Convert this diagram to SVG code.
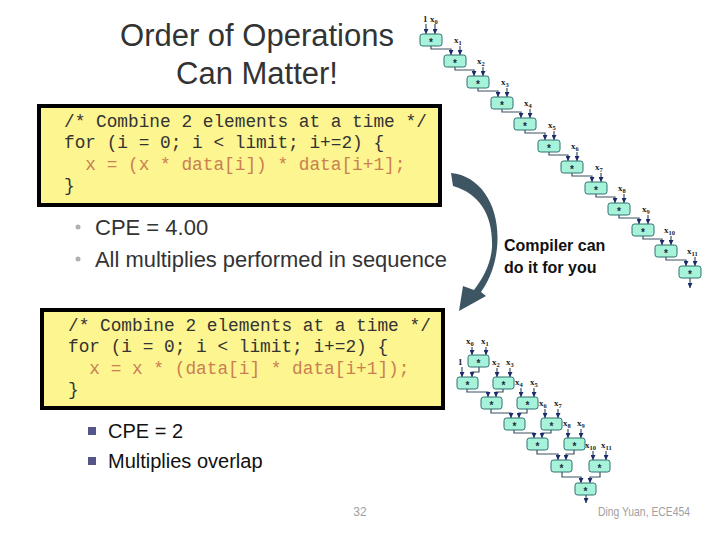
<svg xmlns="http://www.w3.org/2000/svg" width="720" height="540" viewBox="0 0 720 540">
<style>
.title{font-family:"Liberation Sans",Arial,sans-serif;font-size:31px;fill:#333;text-anchor:middle}
.code{font-family:"Liberation Mono","Courier New",monospace;font-size:17.8px;fill:#333;white-space:pre}
.hot{fill:#c98052}
.box{fill:#fdf590;stroke:#000;stroke-width:4}
.bul{font-family:"Liberation Sans",Arial,sans-serif;font-size:22px;fill:#333}
.bul2{font-family:"Liberation Sans",Arial,sans-serif;font-size:20px;fill:#111}
.note{font-family:"Liberation Sans",Arial,sans-serif;font-size:16px;font-weight:bold;fill:#111}
.foot{font-family:"Liberation Sans",Arial,sans-serif;font-size:12px;fill:#a0a0a0}
.n rect{fill:#a6f3d9;stroke:#2f7070;stroke-width:1}
.n text{font-family:"Liberation Sans",Arial,sans-serif;font-size:10px;font-weight:bold;fill:#1a2a40;text-anchor:middle}
.lbl{font-family:"Liberation Serif","Times New Roman",serif;font-size:9px;font-weight:bold;fill:#222}
.lbl tspan{font-size:6.5px}
.cn path{fill:none;stroke:#3a5060;stroke-width:1.2;marker-end:url(#ah)}
</style>
<defs>
<marker id="ah" markerUnits="userSpaceOnUse" markerWidth="5" markerHeight="5" refX="5" refY="2.5" orient="auto">
<path d="M0,0 L5,2.5 L0,5 z" fill="#1b2a6b"/>
</marker>
</defs>

<text class="title" x="257" y="46">Order of Operations</text>
<text class="title" x="257" y="84">Can Matter!</text>

<g id="code1">
<rect class="box" x="39" y="106" width="401" height="99"/>
<text class="code" x="64" y="127">/* Combine 2 elements at a time */</text>
<text class="code" x="64" y="148">for (i = 0; i &lt; limit; i+=2) {</text>
<text class="code hot" x="64" y="170">  x = (x * data[i]) * data[i+1];</text>
<text class="code" x="64" y="191">}</text>
</g>

<g id="bullets1">
<circle cx="78" cy="227" r="2.5" fill="#b0b0b0"/>
<circle cx="78" cy="259" r="2.5" fill="#b0b0b0"/>
<text class="bul" x="95" y="235">CPE = 4.00</text>
<text class="bul" x="95" y="267" textLength="352" lengthAdjust="spacingAndGlyphs">All multiplies performed in sequence</text>
</g>

<g id="note">
<text class="note" x="504" y="251">Compiler can</text>
<text class="note" x="504" y="273">do it for you</text>
</g>

<g id="curve">
<path d="M451 173 C482 176 501 208 497 248 C495 268 488 282 481 292 L486 296 L459 311 L463 286 L474 290 C484 277 491 263 492 247 C493 215 480 194 453 186 Z" fill="#3e5664"/>
</g>

<g id="code2">
<rect class="box" x="42" y="310" width="401" height="98"/>
<text class="code" x="68" y="331">/* Combine 2 elements at a time */</text>
<text class="code" x="68" y="352">for (i = 0; i &lt; limit; i+=2) {</text>
<text class="code hot" x="68" y="374">  x = x * (data[i] * data[i+1]);</text>
<text class="code" x="68" y="395">}</text>
</g>

<g id="bullets2">
<rect x="88" y="427" width="8" height="8" fill="#55558a"/>
<rect x="88" y="457" width="8" height="8" fill="#55558a"/>
<text class="bul2" x="108" y="438">CPE = 2</text>
<text class="bul2" x="108" y="468">Multiplies overlap</text>
</g>

<g id="toplabels">
<text class="lbl" x="423" y="22">1</text>
<text class="lbl" x="430" y="22">x<tspan dy="2">0</tspan></text>
<text class="lbl" x="454" y="43">x<tspan dy="2">1</tspan></text>
<text class="lbl" x="477" y="64">x<tspan dy="2">2</tspan></text>
<text class="lbl" x="501" y="85">x<tspan dy="2">3</tspan></text>
<text class="lbl" x="524" y="106">x<tspan dy="2">4</tspan></text>
<text class="lbl" x="548" y="128">x<tspan dy="2">5</tspan></text>
<text class="lbl" x="571" y="149">x<tspan dy="2">6</tspan></text>
<text class="lbl" x="595" y="170">x<tspan dy="2">7</tspan></text>
<text class="lbl" x="618" y="191">x<tspan dy="2">8</tspan></text>
<text class="lbl" x="642" y="212">x<tspan dy="2">9</tspan></text>
<text class="lbl" x="664" y="233">x<tspan dy="2">10</tspan></text>
<text class="lbl" x="687" y="254">x<tspan dy="2">11</tspan></text>
</g>

<g id="topconnectors" class="cn">
<path d="M426 24 V34"/><path d="M435 24 V34"/>
<path d="M431 46 V49 H451 V55"/><path d="M460 46 V55"/>
<path d="M455 67 V70 H474 V76"/><path d="M483 67 V76"/>
<path d="M478 88 V91 H498 V97"/><path d="M507 88 V97"/>
<path d="M502 109 V112 H521 V118"/><path d="M530 109 V118"/>
<path d="M525 130 V133 H545 V140"/><path d="M554 131 V140"/>
<path d="M549 152 V155 H568 V161"/><path d="M577 152 V161"/>
<path d="M572 173 V176 H592 V182"/><path d="M601 173 V182"/>
<path d="M596 194 V197 H615 V203"/><path d="M624 194 V203"/>
<path d="M619 215 V218 H639 V224"/><path d="M648 215 V224"/>
<path d="M643 236 V239 H662 V245"/><path d="M671 236 V245"/>
<path d="M666 257 V260 H686 V266"/><path d="M695 257 V266"/>
<path d="M690 278 V288"/>
</g>

<g id="t0" class="n" transform="translate(420,34)"><rect width="22" height="12" rx="2.5"/><text x="11" y="11.5">*</text></g>
<g id="t1" class="n" transform="translate(444,55)"><rect width="22" height="12" rx="2.5"/><text x="11" y="11.5">*</text></g>
<g id="t2" class="n" transform="translate(467,76)"><rect width="22" height="12" rx="2.5"/><text x="11" y="11.5">*</text></g>
<g id="t3" class="n" transform="translate(491,97)"><rect width="22" height="12" rx="2.5"/><text x="11" y="11.5">*</text></g>
<g id="t4" class="n" transform="translate(514,118)"><rect width="22" height="12" rx="2.5"/><text x="11" y="11.5">*</text></g>
<g id="t5" class="n" transform="translate(538,140)"><rect width="22" height="12" rx="2.5"/><text x="11" y="11.5">*</text></g>
<g id="t6" class="n" transform="translate(561,161)"><rect width="22" height="12" rx="2.5"/><text x="11" y="11.5">*</text></g>
<g id="t7" class="n" transform="translate(585,182)"><rect width="22" height="12" rx="2.5"/><text x="11" y="11.5">*</text></g>
<g id="t8" class="n" transform="translate(608,203)"><rect width="22" height="12" rx="2.5"/><text x="11" y="11.5">*</text></g>
<g id="t9" class="n" transform="translate(632,224)"><rect width="22" height="12" rx="2.5"/><text x="11" y="11.5">*</text></g>
<g id="t10" class="n" transform="translate(655,245)"><rect width="22" height="12" rx="2.5"/><text x="11" y="11.5">*</text></g>
<g id="t11" class="n" transform="translate(679,266)"><rect width="22" height="12" rx="2.5"/><text x="11" y="11.5">*</text></g>

<g id="botlabels">
<text class="lbl" x="466" y="344">x<tspan dy="2">0</tspan></text>
<text class="lbl" x="481" y="344">x<tspan dy="2">1</tspan></text>
<text class="lbl" x="458" y="365">1</text>
<text class="lbl" x="492" y="365">x<tspan dy="2">2</tspan></text>
<text class="lbl" x="506" y="365">x<tspan dy="2">3</tspan></text>
<text class="lbl" x="515" y="385">x<tspan dy="2">4</tspan></text>
<text class="lbl" x="530" y="385">x<tspan dy="2">5</tspan></text>
<text class="lbl" x="539" y="406">x<tspan dy="2">6</tspan></text>
<text class="lbl" x="554" y="406">x<tspan dy="2">7</tspan></text>
<text class="lbl" x="563" y="426">x<tspan dy="2">8</tspan></text>
<text class="lbl" x="577" y="426">x<tspan dy="2">9</tspan></text>
<text class="lbl" x="585" y="448">x<tspan dy="2">10</tspan></text>
<text class="lbl" x="601" y="448">x<tspan dy="2">11</tspan></text>
</g>

<g id="botconnectors" class="cn">
<path d="M472 347 V355"/><path d="M486 347 V355"/>
<path d="M462 367 V377"/><path d="M479 367 V372 H472 V377"/>
<path d="M497 368 V377"/><path d="M510 368 V377"/>
<path d="M467 389 V392 H488 V397"/><path d="M503 389 V392 H496 V397"/>
<path d="M521 388 V397"/><path d="M534 388 V397"/>
<path d="M491 409 V413 H511 V418"/><path d="M527 409 V413 H519 V418"/>
<path d="M545 409 V418"/><path d="M558 409 V418"/>
<path d="M514 430 V433 H534 V438"/><path d="M551 430 V433 H542 V438"/>
<path d="M568 429 V438"/><path d="M581 429 V438"/>
<path d="M537 450 V454 H558 V460"/><path d="M574 450 V454 H566 V460"/>
<path d="M593 451 V460"/><path d="M606 451 V460"/>
<path d="M562 472 V477 H581 V483"/><path d="M600 472 V477 H590 V483"/>
<path d="M586 495 V503"/>
</g>

<g id="bP" class="n" transform="translate(468,355)"><rect width="21" height="12" rx="2.5"/><text x="10.5" y="11.5">*</text></g>
<g id="bL1" class="n" transform="translate(457,377)"><rect width="21" height="12" rx="2.5"/><text x="10.5" y="11.5">*</text></g>
<g id="bR1" class="n" transform="translate(493,377)"><rect width="21" height="12" rx="2.5"/><text x="10.5" y="11.5">*</text></g>
<g id="bL2" class="n" transform="translate(481,397)"><rect width="21" height="12" rx="2.5"/><text x="10.5" y="11.5">*</text></g>
<g id="bR2" class="n" transform="translate(517,397)"><rect width="21" height="12" rx="2.5"/><text x="10.5" y="11.5">*</text></g>
<g id="bL3" class="n" transform="translate(504,418)"><rect width="21" height="12" rx="2.5"/><text x="10.5" y="11.5">*</text></g>
<g id="bR3" class="n" transform="translate(541,418)"><rect width="21" height="12" rx="2.5"/><text x="10.5" y="11.5">*</text></g>
<g id="bL4" class="n" transform="translate(527,438)"><rect width="21" height="12" rx="2.5"/><text x="10.5" y="11.5">*</text></g>
<g id="bR4" class="n" transform="translate(564,438)"><rect width="21" height="12" rx="2.5"/><text x="10.5" y="11.5">*</text></g>
<g id="bL5" class="n" transform="translate(551,460)"><rect width="21" height="12" rx="2.5"/><text x="10.5" y="11.5">*</text></g>
<g id="bR5" class="n" transform="translate(589,460)"><rect width="21" height="12" rx="2.5"/><text x="10.5" y="11.5">*</text></g>
<g id="bL6" class="n" transform="translate(575,483)"><rect width="21" height="12" rx="2.5"/><text x="10.5" y="11.5">*</text></g>

<g id="footer">
<text class="foot" x="360" y="516" text-anchor="middle">32</text>
<text class="foot" x="598" y="516" font-size="11" textLength="92" lengthAdjust="spacingAndGlyphs">Ding Yuan, ECE454</text>
</g>
</svg>
